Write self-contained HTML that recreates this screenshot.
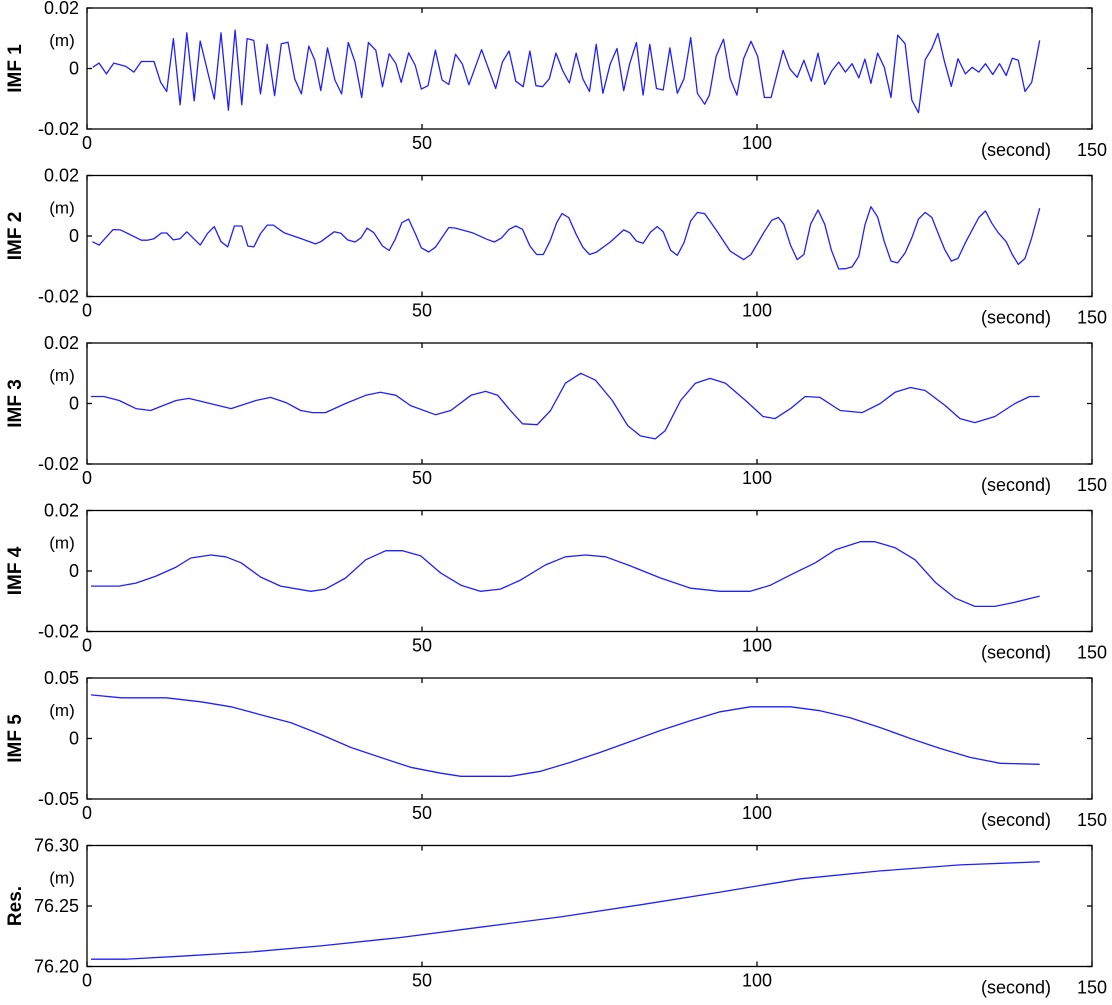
<!DOCTYPE html>
<html><head><meta charset="utf-8"><style>
body{margin:0;background:#fff;}
svg text{font-family:"Liberation Sans",Arial,sans-serif;fill:#000;}
</style></head><body>
<svg id="chart" width="1112" height="1000" xmlns="http://www.w3.org/2000/svg"></svg>
<script>
// time axis ticks
const xTicks = [0, 50, 100, 150];
// panel labels / y ranges / tick labels
const panelNames = ["IMF 1","IMF 2","IMF 3","IMF 4","IMF 5","Res."];
const yMins = [-0.02,-0.02,-0.02,-0.02,-0.05,76.20];
const yMaxs = [0.02,0.02,0.02,0.02,0.05,76.30];
const yTickLabels = [["0.02","0","-0.02"],["0.02","0","-0.02"],["0.02","0","-0.02"],["0.02","0","-0.02"],["0.05","0","-0.05"],["76.30","76.25","76.20"]];
// IMF1 (values in mm)
const imf1T = [0.85,1.8,2.9,4.0,5.8,7.0,8.1,10.0,11.0,11.9,12.9,13.9,14.9,16.0,16.9,19.0,20.0,21.1,22.1,23.1,23.9,24.9,25.9,26.9,28.0,29.0,30.0,31.0,32.0,33.1,34.0,34.9,35.9,37.0,38.0,39.0,40.0,41.0,42.0,43.1,44.1,45.1,46.1,46.9,48.0,49.0,49.9,50.9,52.0,53.0,54.0,55.0,56.0,57.0,58.9,61.0,62.0,63.0,64.0,65.1,66.1,67.0,68.0,69.0,70.0,71.0,72.0,73.0,74.0,75.0,76.0,77.0,78.1,79.1,80.1,81.0,82.0,83.0,84.0,85.0,86.0,87.0,88.1,89.1,90.1,91.1,92.2,92.9,93.9,95.0,96.0,97.0,98.0,99.1,100.1,101.1,102.1,103.9,104.9,106.0,107.0,108.1,109.1,110.1,111.2,112.2,113.2,114.2,115.2,116.1,117.0,118.0,119.0,120.0,121.0,122.1,123.1,124.1,125.1,126.1,127.0,128.0,129.0,130.0,131.1,132.1,133.1,134.1,135.2,136.2,137.2,138.1,139.0,140.0,141.0,142.2];
const imf1V = [0.4,1.8,-1.8,1.8,0.7,-1.2,2.3,2.3,-4.6,-7.6,9.9,-12,11.8,-10.7,9.1,-10.1,11.8,-13.8,12.7,-12,9.9,9.3,-8.4,8,-9,8.2,8.7,-3.4,-8.4,7.4,2.7,-7.3,6.8,-3.8,-8.4,8.6,2.1,-9.6,8.6,6,-6,4.9,1.6,-4.6,5.2,1,-6.8,-5.7,6,-3.8,-5.3,4.7,1.6,-5.4,6.2,-6.6,2.1,5.8,-4.2,-6,5.8,-5.7,-6,-3.4,5.1,-0.7,-4.8,5.1,-3.4,-7.6,8,-8.2,1.6,6.6,-7.3,1.6,8.6,-8.8,8,-6.6,-7.1,6.8,-8.2,-3.4,10.2,-8.2,-11.8,-8.8,4,9.7,-3.4,-8.8,3.2,9,4,-9.6,-9.6,6,-0.1,-2.9,2.7,-4.2,5.1,-5.3,-0.7,2.1,-1.2,1.6,-3.1,3.1,-4.9,5.1,0.4,-9.6,11,8.2,-10.4,-14.6,2.9,6.6,11.6,2.1,-5.9,3.2,-1.8,0.4,-1.2,1.6,-2,1.6,-2.3,3.4,2.7,-7.6,-4.6,9.3];
// IMF2
const imf2T = [0.8,1.8,3.9,5.0,8.1,9.0,10.0,11.1,11.9,12.9,13.9,14.9,16.9,18.0,19.0,20.0,21.0,22.0,23.1,24.0,24.9,25.9,26.9,27.8,29.4,32.0,34.1,34.9,36.9,37.9,38.9,40.0,40.9,41.8,42.8,44.1,45.1,46.0,47.0,48.0,49.0,49.9,51.0,52.0,54.0,55.0,57.5,59.7,60.8,61.9,63.0,64.0,65.0,66.1,67.1,68.1,69.1,70.1,70.9,71.9,73.0,74.0,75.0,76.0,78.1,80.1,81.0,82.0,83.0,84.1,85.1,86.0,87.1,88.1,89.1,90.1,91.1,92.2,94.0,96.0,98.0,99.1,101.0,102.2,103.2,104.0,105.0,106.0,107.0,108.0,109.1,110.1,111.1,112.2,113.2,114.2,115.2,116.1,117.0,118.0,119.0,120.0,121.0,122.1,123.1,124.1,125.1,126.1,127.0,128.0,129.0,130.0,131.1,133.1,134.1,135.0,136.0,137.2,138.1,139.0,140.0,141.0,142.2];
const imf2V = [-1.9,-3,2.1,2,-1.4,-1.4,-0.9,1,1,-1.3,-0.9,1.4,-3,0.9,3.1,-1.9,-3.6,3.3,3.3,-3.3,-3.6,0.8,3.6,3.6,1.1,-0.9,-2.6,-1.9,1.4,0.9,-1.3,-2,-0.6,2.6,1.1,-3.3,-4.8,-1.1,4.4,5.6,0.8,-3.9,-5.3,-3.7,2.8,2.6,1.1,-1.1,-2,-0.6,2.2,3.3,2.2,-3.3,-6.1,-6.1,-1.7,4.4,7.4,6.1,0.6,-3.7,-6.1,-5.4,-2,2,1.1,-1.7,-2.4,1.3,3.1,1.4,-4.7,-6.4,-2.2,5,7.8,7.4,1.7,-5,-7.8,-6.1,1.1,5.2,6.1,3.9,-3,-7.8,-6.1,3.9,8.6,3.9,-4.7,-10.9,-10.8,-10.2,-6.7,3.6,9.7,6.3,-1.9,-8.3,-8.9,-5.6,-0.6,5.6,7.8,6.1,1.1,-4.4,-8.3,-7.4,-2.2,6.1,8.3,4.4,1.1,-1.9,-6.1,-9.4,-7.4,-0.6,9.2];
// IMF3
const imf3T = [0.6,2.5,4.8,7.3,9.5,11,13.3,15.2,21.5,25.2,27.4,29.7,31.9,33.7,35.6,38.6,41.6,43.8,46.1,48.3,52.0,54.3,57.3,59.5,61.3,63.2,65.0,67.2,69.2,71.4,73.7,75.9,78.4,80.7,82.6,84.8,86.3,88.6,90.8,93.0,95.3,98.3,100.9,102.7,105.0,107.2,109.4,112.4,115.7,118.4,120.6,122.9,125.1,128.1,130.3,132.5,135.5,138.5,140.7,142.2];
const imf3V = [2.3,2.3,1,-1.7,-2.3,-1,1,1.7,-1.7,1,2,0.3,-2.3,-3,-3,0,2.7,3.7,2.7,-0.7,-3.7,-2.3,2.7,4,2.7,-2.3,-6.7,-7,-2.3,6.7,10,7.7,1,-7.3,-10.7,-11.7,-9,1,6.7,8.3,6.7,1,-4.3,-5,-1.7,2.3,2,-2.3,-3,0,3.7,5.3,4.3,-0.7,-5,-6.3,-4.3,0,2.3,2.3];
// IMF4
const imf4T = [0.6,4.8,7.3,10.3,13.3,15.5,18.5,20.7,23.0,25.9,28.9,33.4,35.6,38.6,41.6,44.6,47.1,49.8,52.8,55.8,58.7,61.7,64.7,68.4,71.4,74.4,77.4,81.1,85.6,90.1,94.5,99.0,102.0,105.0,108.7,111.7,115.4,117.6,120.6,123.6,126.6,129.6,132.5,135.5,138.5,142.2];
const imf4V = [-5,-5,-4,-1.7,1.3,4.3,5.3,4.7,2.7,-2,-5,-6.7,-6,-2.3,3.7,6.7,6.7,5,-0.7,-4.7,-6.7,-6,-3,2,4.7,5.3,4.7,1.7,-2.3,-5.7,-6.7,-6.7,-4.7,-1.3,2.7,7,9.7,9.7,7.7,3.7,-3.7,-9,-11.7,-11.7,-10.3,-8.3];
// IMF5
const imf5T = [0.6,5.1,11.8,17,21.5,25.9,30.4,34.9,39.4,43.8,48.3,52.8,55.8,63.2,67.7,72.2,76.6,81.1,85.6,90.1,94.5,99.0,105.0,109.4,113.9,118.4,122.9,127.3,131.8,136.3,142.2];
const imf5V = [36,33.6,33.6,30.3,26.2,19.7,13.1,3.3,-7.4,-15.6,-23.8,-28.7,-31.2,-31.2,-27.1,-19.7,-11.5,-2.5,6.6,14.8,22.1,26.2,26.2,23,17.2,9,0,-8.2,-15.6,-20.5,-21.3];
// Residual (m)
const resT = [0.6,5.8,14,24.4,34.9,46.8,58.7,70.7,82.6,94.5,106.5,118.4,130.3,142.2];
const resV = [76.206,76.206,76.2085,76.212,76.217,76.224,76.2325,76.241,76.251,76.2615,76.2725,76.279,76.284,76.2865];

const series = [
 [imf1T, imf1V, 0.001],[imf2T, imf2V, 0.001],[imf3T, imf3V, 0.001],
 [imf4T, imf4V, 0.001],[imf5T, imf5V, 0.001],[resT, resV, 1]
];
const NS="http://www.w3.org/2000/svg";
const svg=document.getElementById('chart');
const L=87, R=1092, H=121;
function xS(t){return L+(t/150)*(R-L);}
function mk(tag,attrs,parent){const e=document.createElementNS(NS,tag);for(const k in attrs)e.setAttribute(k,attrs[k]);(parent||svg).appendChild(e);return e;}
for(let i=0;i<6;i++){
  const top=8+i*167.5, bot=top+H;
  const yS=v=>bot-(v-yMins[i])/(yMaxs[i]-yMins[i])*H;
  const g=mk('g',{});
  
  
  const box=mk('rect',{x:L,y:top,width:R-L,height:H,fill:'none',stroke:'#000','stroke-width':1.3},g);
  
  
  xTicks.forEach((t,k)=>{
    const x=xS(t);
    mk('line',{x1:x,x2:x,y1:top,y2:top+5,stroke:'#000','stroke-width':1.3},g);
    mk('line',{x1:x,x2:x,y1:bot,y2:bot-5,stroke:'#000','stroke-width':1.3},g);
    const last = k===xTicks.length-1;
    const tx=mk('text',{x:x,y:bot+(last?27:20),'font-size':18,'text-anchor':'middle'},g);
    tx.textContent=t;
    
    
  });
  const mid=(yMins[i]+yMaxs[i])/2;
  [yMaxs[i],mid,yMins[i]].forEach((v,k)=>{
    const y=yS(v);
    mk('line',{x1:L,x2:L+5,y1:y,y2:y,stroke:'#000','stroke-width':1.3},g);
    mk('line',{x1:R,x2:R-5,y1:y,y2:y,stroke:'#000','stroke-width':1.3},g);
    const ty=mk('text',{x:79,y:y+6,'font-size':18,'text-anchor':'end'},g);
    ty.textContent=yTickLabels[i][k];
    
    
  });
  const m=mk('text',{x:62,y:top+38,'font-size':17,'text-anchor':'middle'},g);
  m.textContent='(m)';
  
  
  const s=mk('text',{x:1016,y:bot+27,'font-size':18,'text-anchor':'middle'},g);
  s.textContent='(second)';
  
  
  const cy=top+H/2;
  const n=mk('text',{x:0,y:0,'font-size':19,'font-weight':'bold','text-anchor':'middle',transform:`translate(21,${cy}) rotate(-90)`},g);
  n.textContent=panelNames[i];
  
  
  const [T,V,sc]=series[i];
  const pts=T.map((t,j)=>xS(t).toFixed(1)+','+yS(V[j]*sc).toFixed(1)).join(' ');
  const pl=mk('polyline',{points:pts,fill:'none',stroke:'#2020ff','stroke-width':1.3,'stroke-linejoin':'round'},g);
  
  
}
</script>
</body></html>
